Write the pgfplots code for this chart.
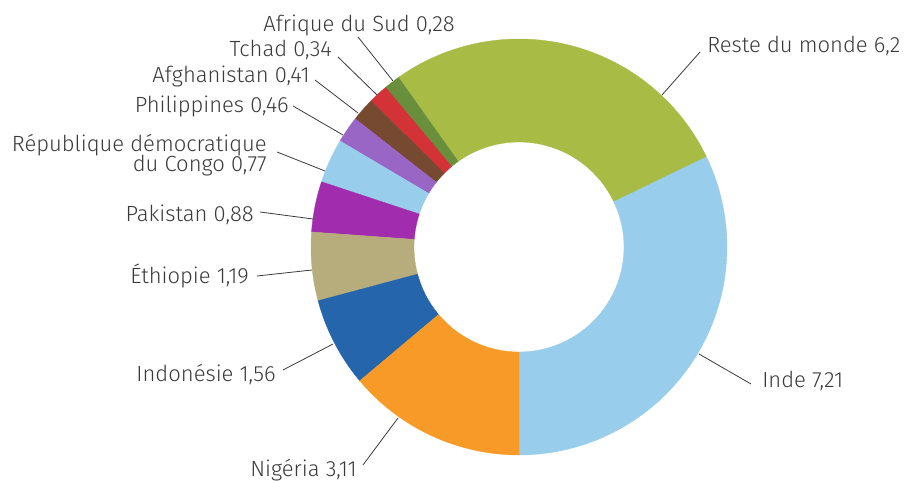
\documentclass[border=0pt]{standalone}
\usepackage{fontspec}
\setmainfont{Fira Sans Light}
\usepackage{pgfplots}
\pgfplotsset{compat=1.18}
\definecolor{cInde}{HTML}{98CDEB}
\definecolor{cReste}{HTML}{A8BB45}
\definecolor{cAfS}{HTML}{6A8F3C}
\definecolor{cTchad}{HTML}{D33237}
\definecolor{cAfg}{HTML}{764A30}
\definecolor{cPhi}{HTML}{9A66C6}
\definecolor{cRDC}{HTML}{98CDEB}
\definecolor{cPak}{HTML}{A12DAE}
\definecolor{cEth}{HTML}{B7AC7B}
\definecolor{cIdn}{HTML}{2565AC}
\definecolor{cNga}{HTML}{F79A28}
\definecolor{txt}{HTML}{3A3A3A}
\tikzset{lbl/.style={inner sep=0pt, font=\fontsize{16.5}{19}\selectfont, text=txt}}
% values (millions)
\def\vInde{7.21}\def\vReste{6.2}\def\vAfS{0.28}\def\vTchad{0.34}\def\vAfg{0.41}
\def\vPhi{0.46}\def\vRDC{0.77}\def\vPak{0.88}\def\vEth{1.19}\def\vIdn{1.56}\def\vNga{3.11}
\pgfmathsetmacro{\total}{\vInde+\vReste+\vAfS+\vTchad+\vAfg+\vPhi+\vRDC+\vPak+\vEth+\vIdn+\vNga}
\def\cum{0}
\newcommand{\seg}[2]{%
  \pgfmathsetmacro{\segA}{-90+360*\cum/\total}%
  \pgfmathsetmacro{\segB}{-90+360*(\cum+#1)/\total}%
  \edef\doseg{\noexpand\addplot[fill=#2, draw=#2, line width=0.25pt, line join=round, mark=none, domain=0:241, samples=242, variable=\noexpand\t]
   ({519+((\noexpand\t<120.5) ? 208 : 105)*cos(\segA+(\segB-\segA)*((\noexpand\t<120.5) ? \noexpand\t/120 : (241-\noexpand\t)/120))},
    {234+((\noexpand\t<120.5) ? 208 : 105)*sin(\segA+(\segB-\segA)*((\noexpand\t<120.5) ? \noexpand\t/120 : (241-\noexpand\t)/120))}) -- cycle;}%
  \doseg
  \pgfmathsetmacro{\newcum}{\cum+#1}\global\let\cum\newcum
}
\begin{document}
\begin{tikzpicture}
\begin{axis}[width=679.5pt, height=360.75pt, scale only axis, xmin=0, xmax=906, ymin=0, ymax=481,
  hide axis, clip=false]
\seg{\vInde}{cInde}
\seg{\vReste}{cReste}
\seg{\vAfS}{cAfS}
\seg{\vTchad}{cTchad}
\seg{\vAfg}{cAfg}
\seg{\vPhi}{cPhi}
\seg{\vRDC}{cRDC}
\seg{\vPak}{cPak}
\seg{\vEth}{cEth}
\seg{\vIdn}{cIdn}
\seg{\vNga}{cNga}
% leader lines
\addplot[txt, line width=0.6pt, mark=none] coordinates {(358,444) (393,400)};
\addplot[txt, line width=0.6pt, mark=none] coordinates {(338,424) (377,386)};
\addplot[txt, line width=0.6pt, mark=none] coordinates {(315,401) (358,368)};
\addplot[txt, line width=0.6pt, mark=none] coordinates {(293,375) (343,346)};
\addplot[txt, line width=0.6pt, mark=none] coordinates {(277,329) (325,310)};
\addplot[txt, line width=0.6pt, mark=none] coordinates {(260,269) (313,262)};
\addplot[txt, line width=0.6pt, mark=none] coordinates {(257,205) (312,211)};
\addplot[txt, line width=0.6pt, mark=none] coordinates {(283,111) (333,137)};
\addplot[txt, line width=0.6pt, mark=none] coordinates {(363,16) (398,63)};
\addplot[txt, line width=0.6pt, mark=none] coordinates {(700,429) (662,386)};
\addplot[txt, line width=0.6pt, mark=none] coordinates {(751,97) (699,127)};
% labels
\node[lbl, anchor=base east] at (axis cs:455,449) {Afrique du Sud 0,28};
\node[lbl, anchor=base east] at (axis cs:332,424) {Tchad 0,34};
\node[lbl, anchor=base east] at (axis cs:310,398) {Afghanistan 0,41};
\node[lbl, anchor=base east] at (axis cs:289,368) {Philippines 0,46};
\node[lbl, anchor=base east] at (axis cs:267,329) {République démocratique};
\node[lbl, anchor=base east] at (axis cs:267,309) {du Congo 0,77};
\node[lbl, anchor=base east] at (axis cs:254,259) {Pakistan 0,88};
\node[lbl, anchor=base east] at (axis cs:249,197) {Éthiopie 1,19};
\node[lbl, anchor=base east] at (axis cs:276,99) {Indonésie 1,56};
\node[lbl, anchor=base east] at (axis cs:357,4) {Nigéria 3,11};
\node[lbl, anchor=base west] at (axis cs:707,428) {Reste du monde 6,2};
\node[lbl, anchor=base west] at (axis cs:762,93) {Inde 7,21};
\end{axis}
\pgfresetboundingbox
\path[use as bounding box] (0,0) rectangle (679.5pt,360.75pt);
\end{tikzpicture}
\end{document}
